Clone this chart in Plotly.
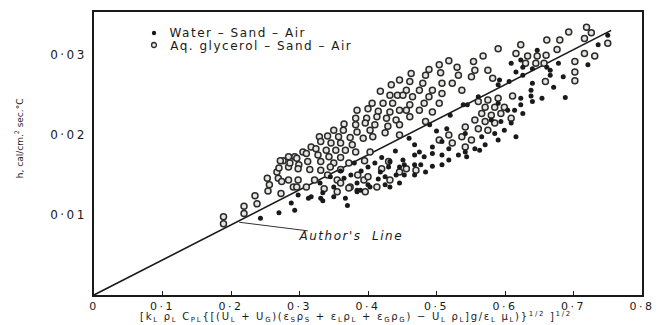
import plotly.graph_objects as go

# ---- Data ----
# Aq. glycerol - Sand - Air (open circles)
glyc_x = [0.189, 0.189, 0.219, 0.219, 0.238, 0.235, 0.254, 0.256, 0.273, 0.253, 0.269, 0.267, 0.276, 0.284,
          0.293, 0.274, 0.284, 0.291, 0.329, 0.317, 0.305, 0.284, 0.272, 0.286, 0.299, 0.270, 0.296,
          0.434, 0.418, 0.432, 0.443, 0.406, 0.422, 0.436, 0.384, 0.400, 0.415, 0.432, 0.446, 0.382,
          0.398, 0.413, 0.427, 0.441, 0.365, 0.382, 0.396, 0.410, 0.429, 0.446, 0.350, 0.364, 0.384,
          0.403, 0.425, 0.341, 0.357, 0.374, 0.393, 0.407, 0.446, 0.331, 0.346, 0.360, 0.377, 0.324,
          0.339, 0.353, 0.367, 0.382, 0.403, 0.310, 0.327, 0.343, 0.360, 0.296, 0.312, 0.331, 0.350,
          0.372, 0.298, 0.315, 0.331, 0.360, 0.341, 0.298, 0.322, 0.355, 0.310, 0.336, 0.374, 0.394,
          0.413, 0.432, 0.355, 0.372, 0.396,
          0.385, 0.400, 0.420, 0.430, 0.395, 0.360, 0.345, 0.456, 0.470, 0.446,
          0.463, 0.446,
          0.590, 0.568, 0.518, 0.504, 0.554, 0.489, 0.530, 0.506, 0.556, 0.575, 0.484, 0.532, 0.551,
          0.582, 0.461, 0.480, 0.508, 0.523, 0.456, 0.475, 0.494, 0.537, 0.451, 0.465, 0.489, 0.508,
          0.461, 0.482, 0.504, 0.456, 0.475, 0.494, 0.461, 0.484,
          0.561, 0.575, 0.590, 0.571, 0.585, 0.599, 0.566, 0.580, 0.594, 0.556, 0.571, 0.585, 0.542,
          0.561, 0.575, 0.518, 0.537, 0.551, 0.504, 0.523, 0.542,
          0.719, 0.693, 0.726, 0.623, 0.661, 0.680, 0.716, 0.676, 0.750, 0.616, 0.633, 0.647, 0.660,
          0.716, 0.731, 0.630, 0.645, 0.657, 0.702, 0.702, 0.702, 0.659, 0.611, 0.609]
glyc_y = [0.0098, 0.0089, 0.0111, 0.0102, 0.0114, 0.0124, 0.0130, 0.0138, 0.0127, 0.0146, 0.0146, 0.0154,
          0.0168, 0.0160, 0.0173, 0.0142, 0.0144, 0.0135, 0.0198, 0.0185, 0.0179, 0.0173, 0.0168, 0.0165,
          0.0163, 0.0159, 0.0135,
          0.0263, 0.0255, 0.0250, 0.0250, 0.0240, 0.0240, 0.0240, 0.0231, 0.0233, 0.0230, 0.0229, 0.0231,
          0.0221, 0.0221, 0.0223, 0.0221, 0.0219, 0.0214, 0.0213, 0.0215, 0.0213, 0.0211, 0.0213, 0.0206,
          0.0206, 0.0204, 0.0206, 0.0203, 0.0199, 0.0198, 0.0197, 0.0196, 0.0198, 0.0200, 0.0192, 0.0190,
          0.0190, 0.0188, 0.0183, 0.0181, 0.0181, 0.0181, 0.0179, 0.0179, 0.0177, 0.0175, 0.0173, 0.0172,
          0.0171, 0.0167, 0.0167, 0.0165, 0.0165, 0.0158, 0.0157, 0.0156, 0.0157, 0.0150, 0.0144, 0.0144,
          0.0144, 0.0135, 0.0133, 0.0135, 0.0144, 0.0135, 0.0144, 0.0129, 0.0134, 0.0129,
          0.0150, 0.0148, 0.0158, 0.0167, 0.0168, 0.0140, 0.0160, 0.0158, 0.0156, 0.0154,
          0.0277, 0.0269,
          0.0308, 0.0299, 0.0293, 0.0288, 0.0292, 0.0282, 0.0285, 0.0278, 0.0281, 0.0281, 0.0275, 0.0275,
          0.0273, 0.0271, 0.0267, 0.0265, 0.0265, 0.0265, 0.0256, 0.0256, 0.0256, 0.0256, 0.0250, 0.0248,
          0.0248, 0.0252, 0.0238, 0.0240, 0.0240, 0.0231, 0.0231, 0.0229, 0.0223, 0.0217,
          0.0242, 0.0244, 0.0246, 0.0235, 0.0235, 0.0235, 0.0227, 0.0225, 0.0227, 0.0219, 0.0217, 0.0215,
          0.0210, 0.0208, 0.0206, 0.0200, 0.0198, 0.0194, 0.0194, 0.0190, 0.0185,
          0.0335, 0.0329, 0.0328, 0.0313, 0.0319, 0.0319, 0.0321, 0.0307, 0.0315, 0.0302, 0.0299, 0.0299,
          0.0300, 0.0302, 0.0299, 0.0290, 0.0290, 0.0290, 0.0292, 0.0279, 0.0268, 0.0267, 0.0249, 0.0221]

# Water - Sand - Air (filled dots)
water_x = [0.243, 0.270, 0.288, 0.293, 0.313, 0.331,
           0.298, 0.317, 0.334, 0.334, 0.350, 0.367, 0.384, 0.370,
           0.432, 0.446, 0.418, 0.425, 0.441, 0.384, 0.403, 0.365, 0.350, 0.389, 0.432, 0.446,
           0.400, 0.425, 0.384,
           0.451, 0.468, 0.482, 0.494, 0.508, 0.518, 0.532, 0.542, 0.544, 0.563, 0.453, 0.468, 0.494,
           0.508, 0.484, 0.468, 0.453, 0.477,
           0.400, 0.410, 0.390, 0.375, 0.360, 0.420, 0.430, 0.380, 0.345, 0.330, 0.415, 0.440,
           0.590, 0.606, 0.561, 0.590, 0.604, 0.580, 0.594, 0.599, 0.585, 0.566, 0.542, 0.508, 0.494,
           0.518, 0.556, 0.571, 0.590, 0.475,
           0.490, 0.520, 0.545, 0.500, 0.460, 0.468, 0.515, 0.539,
           0.592, 0.623, 0.661, 0.626,
           0.647, 0.609, 0.616, 0.626, 0.640, 0.666, 0.678, 0.666, 0.640, 0.685, 0.721, 0.736, 0.671,
           0.638, 0.638, 0.623, 0.640, 0.654, 0.688, 0.623, 0.626, 0.614, 0.609, 0.750, 0.616]
water_y = [0.0096, 0.0103, 0.0115, 0.0106, 0.0121, 0.0121,
           0.0125, 0.0123, 0.0128, 0.0118, 0.0123, 0.0121, 0.0129, 0.0112,
           0.0167, 0.0160, 0.0154, 0.0148, 0.0150, 0.0140, 0.0135, 0.0146, 0.0135, 0.0131, 0.0135, 0.0140,
           0.0138, 0.0138, 0.0131,
           0.0169, 0.0175, 0.0173, 0.0177, 0.0175, 0.0169, 0.0175, 0.0179, 0.0173, 0.0181, 0.0163, 0.0163,
           0.0161, 0.0163, 0.0154, 0.0150, 0.0150, 0.0163,
           0.0160, 0.0165, 0.0155, 0.0150, 0.0155, 0.0172, 0.0160, 0.0165, 0.0148, 0.0140, 0.0145, 0.0180,
           0.0263, 0.0267, 0.0248, 0.0240, 0.0231, 0.0219, 0.0217, 0.0206, 0.0202, 0.0198, 0.0202, 0.0192,
           0.0185, 0.0183, 0.0183, 0.0188, 0.0194, 0.0179,
           0.0213, 0.0225, 0.0238, 0.0205, 0.0196, 0.0188, 0.0208, 0.0238,
           0.0269, 0.0294, 0.0285, 0.0275,
           0.0306, 0.0290, 0.0279, 0.0285, 0.0283, 0.0281, 0.0290, 0.0275, 0.0265, 0.0273, 0.0288, 0.0313,
           0.0260, 0.0256, 0.0249, 0.0246, 0.0242, 0.0246, 0.0247, 0.0238, 0.0227, 0.0231, 0.0215, 0.0325,
           0.0198]

# Author's line
line_x = [0.0, 0.755]
line_y = [0.0, 0.0331]

x_tickvals = [0, 0.1, 0.2, 0.3, 0.4, 0.5, 0.6, 0.7, 0.8]
x_ticktext = ["0", "0·1", "0·2", "0·3", "0·4", "0·5", "0·6", "0·7", "0·8"]
y_tickvals = [0.01, 0.02, 0.03]
y_ticktext = ["0·01", "0·02", "0·03"]

series_names = ["Water – Sand – Air", "Aq. glycerol – Sand – Air"]

FONT = "DejaVu Sans"
INK = "#1a1a1a"

fig = go.Figure()
fig.add_trace(go.Scatter(x=line_x, y=line_y, mode="lines",
                         line=dict(color=INK, width=1.6), showlegend=False, hoverinfo="skip"))
fig.add_trace(go.Scatter(x=glyc_x, y=glyc_y, mode="markers", name=series_names[1],
                         marker=dict(symbol="circle", size=6, color="#e6e6e0",
                                     line=dict(color="#2a2a2a", width=1.5)),
                         showlegend=False))
fig.add_trace(go.Scatter(x=water_x, y=water_y, mode="markers", name=series_names[0],
                         marker=dict(symbol="circle", size=5, color=INK,
                                     line=dict(color=INK, width=0)),
                         showlegend=False))

# geometry of the plot area in pixels
ML, MR, MT, MB = 94, 8, 12, 30
W, H = 659.0 - ML - MR, 325.0 - MT - MB
def px2paper(px, py):
    return (px - ML) / W, (325 - MB - py) / H

LEG_LS = 1.5   # letter spacing applied to legend text (px)

shapes = []
lx0, ly0 = px2paper(155, 33)
shapes.append(dict(type="circle", xref="paper", yref="paper",
                   x0=lx0 - 2.2 / W, x1=lx0 + 2.2 / W, y0=ly0 - 2.2 / H, y1=ly0 + 2.2 / H,
                   fillcolor=INK, line=dict(color=INK, width=0)))
lx1, ly1 = px2paper(155, 45)
shapes.append(dict(type="circle", xref="paper", yref="paper",
                   x0=lx1 - 2.5 / W, x1=lx1 + 2.5 / W, y0=ly1 - 2.5 / H, y1=ly1 + 2.5 / H,
                   fillcolor="#e6e6e0", line=dict(color="#2a2a2a", width=1.3)))

annotations = []
# compensate for the symmetric growth caused by letter spacing
sh0 = (len(series_names[0]) - 1) * LEG_LS / 2
sh1 = (len(series_names[1]) - 1) * LEG_LS / 2
tx, ty = px2paper(170 + sh0, 33)
annotations.append(dict(xref="paper", yref="paper", x=tx, y=ty, text=series_names[0],
                        showarrow=False, xanchor="left", yanchor="middle",
                        font=dict(family=FONT, size=12, color=INK)))
tx, ty = px2paper(171 + sh1, 46)
annotations.append(dict(xref="paper", yref="paper", x=tx, y=ty, text=series_names[1],
                        showarrow=False, xanchor="left", yanchor="middle",
                        font=dict(family=FONT, size=12, color=INK)))

# Author's line label with arrow
annotations.append(dict(x=0.212, y=0.0091, xref="x", yref="y",
                        text="<i>Author's  Line</i>", showarrow=True,
                        ax=112, ay=14, arrowhead=0, arrowwidth=1, arrowcolor="#333",
                        font=dict(family=FONT, size=12, color=INK)))

# axis titles
xt, yt = px2paper(360, 317.5)
annotations.append(dict(xref="paper", yref="paper", x=xt, y=yt, xanchor="center", yanchor="middle",
                        showarrow=False,
                        text="[k<sub>L</sub> ρ<sub>L</sub> C<sub>PL</sub>{[(U<sub>L</sub> + U<sub>G</sub>)"
                             "(ε<sub>S</sub>ρ<sub>S</sub> + ε<sub>L</sub>ρ<sub>L</sub> + ε<sub>G</sub>ρ<sub>G</sub>)"
                             " − U<sub>L</sub> ρ<sub>L</sub>]g/ε<sub>L</sub> μ<sub>L</sub>)}<sup>1/2</sup> ]<sup>1/2</sup>",
                        font=dict(family=FONT, size=10, color=INK)))
yx, yy = px2paper(18, 138)
annotations.append(dict(xref="paper", yref="paper", x=yx, y=yy, xanchor="center", yanchor="middle",
                        showarrow=False, textangle=-90,
                        text="h, cal/cm.<sup>2</sup> sec.°C",
                        font=dict(family=FONT, size=9, color=INK)))

fig.update_layout(
    width=659, height=325,
    margin=dict(l=ML, r=MR, t=MT, b=MB),
    paper_bgcolor="white", plot_bgcolor="white",
    font=dict(family=FONT, size=12, color=INK),
    shapes=shapes, annotations=annotations,
    showlegend=False,
)
fig.update_xaxes(range=[0, 0.8], tickvals=x_tickvals, ticktext=x_ticktext,
                 showgrid=False, zeroline=False, showline=True, mirror=True,
                 linecolor=INK, linewidth=1.5, ticks="inside", ticklen=4, tickcolor=INK,
                 tickfont=dict(family=FONT, size=11, color=INK))
fig.update_yaxes(range=[0, 0.0354], tickvals=y_tickvals, ticktext=y_ticktext,
                 showgrid=False, zeroline=False, showline=True, mirror=True,
                 linecolor=INK, linewidth=1.5, ticks="", ticklabelstandoff=3,
                 tickfont=dict(family=FONT, size=12, color=INK))

post = (
    "document.body.style.margin='0';document.body.style.overflow='hidden';"
    "setTimeout(function(){"
    "var gd=document.getElementById('{plot_id}');"
    "gd.querySelectorAll('.xtick text, .ytick text').forEach(function(e){e.style.letterSpacing='2.5px';});"
    "[0,1,2,3].forEach(function(i){var g=gd.querySelector('.annotation[data-index=\"'+i+'\"] text');"
    "if(g){g.style.letterSpacing=(i==3?'1.7px':'" + str(LEG_LS) + "px');}});"
    "},30);"
)
fig.write_html("out.html", post_script=post, config={"displayModeBar": False})
